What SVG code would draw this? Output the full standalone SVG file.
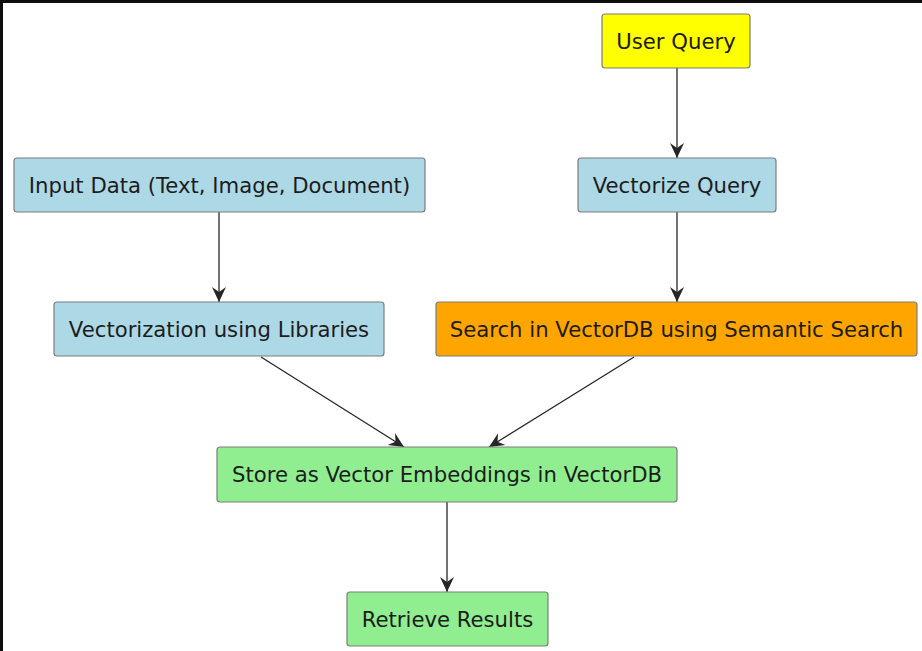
<svg xmlns="http://www.w3.org/2000/svg" width="922" height="651" viewBox="0 0 922 651">
<style>
.box{stroke:#7d7d7d;stroke-width:1.2}
.lbl{font-family:"DejaVu Sans",sans-serif;font-size:21.2px;fill:#1c1c1c;text-anchor:middle}
.edge{stroke:#262626;stroke-width:1.3;fill:none}
</style>
<defs>
<marker id="arr" viewBox="-16 -8 17 16" refX="0" refY="0" markerWidth="17" markerHeight="16" markerUnits="userSpaceOnUse" orient="auto">
<path d="M0,0 L-15,-7 L-10,0 L-15,7 Z" fill="#262626"/>
</marker>
</defs>
<rect x="0" y="0" width="922" height="651" fill="#ffffff"/>
<rect x="0" y="0" width="922" height="3" fill="#0e0e0e"/>
<rect x="0" y="0" width="3" height="651" fill="#0e0e0e"/>
<g id="connectors">
<line class="edge" x1="677" y1="68" x2="677" y2="158" marker-end="url(#arr)"/>
<line class="edge" x1="219" y1="212" x2="219" y2="302" marker-end="url(#arr)"/>
<line class="edge" x1="677" y1="212" x2="677" y2="302" marker-end="url(#arr)"/>
<line class="edge" x1="261" y1="357" x2="404" y2="447" marker-end="url(#arr)"/>
<line class="edge" x1="634" y1="357" x2="489" y2="447" marker-end="url(#arr)"/>
<line class="edge" x1="447" y1="502" x2="447" y2="592" marker-end="url(#arr)"/>
</g>
<g id="user-query">
<rect class="box" x="602" y="14" width="148" height="54" rx="3" fill="#ffff00"/>
<text class="lbl" x="676" y="48.5">User Query</text>
</g>
<g id="input-data">
<rect class="box" x="14" y="158" width="411" height="54" rx="3" fill="#add8e6"/>
<text class="lbl" x="219.5" y="192.5">Input Data (Text, Image, Document)</text>
</g>
<g id="vectorize-query">
<rect class="box" x="578" y="158" width="198" height="54" rx="3" fill="#add8e6"/>
<text class="lbl" x="677" y="192.5">Vectorize Query</text>
</g>
<g id="vectorization">
<rect class="box" x="54" y="302" width="330" height="54" rx="3" fill="#add8e6"/>
<text class="lbl" x="219" y="336.5">Vectorization using Libraries</text>
</g>
<g id="search">
<rect class="box" x="436" y="302" width="481" height="54" rx="3" fill="#ffa500"/>
<text class="lbl" x="676.5" y="336.5">Search in VectorDB using Semantic Search</text>
</g>
<g id="store">
<rect class="box" x="217" y="447" width="460" height="55" rx="3" fill="#90ee90"/>
<text class="lbl" x="447" y="481.5">Store as Vector Embeddings in VectorDB</text>
</g>
<g id="retrieve">
<rect class="box" x="347" y="592" width="201" height="54" rx="3" fill="#90ee90"/>
<text class="lbl" x="447.5" y="626.5">Retrieve Results</text>
</g>
</svg>
